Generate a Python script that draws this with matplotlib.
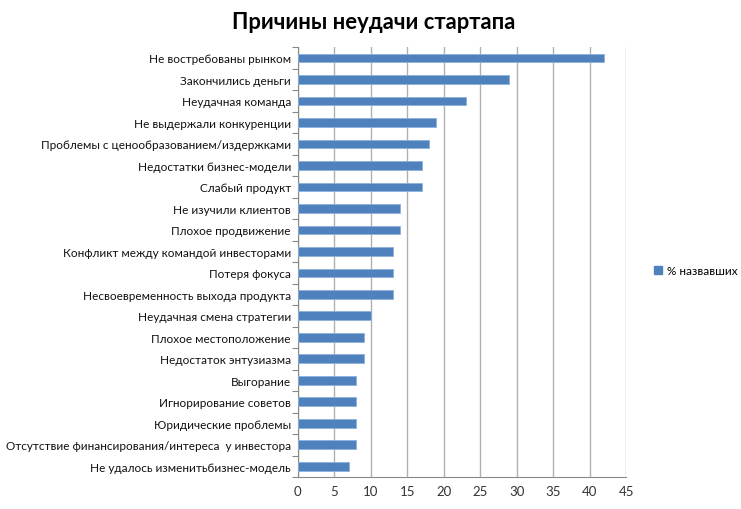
import matplotlib
matplotlib.use("Agg")
import matplotlib.pyplot as plt
from matplotlib.patches import Patch

categories = [
    "Не востребованы рынком",
    "Закончились деньги",
    "Неудачная команда",
    "Не выдержали конкуренции",
    "Проблемы с ценообразованием/издержками",
    "Недостатки бизнес-модели",
    "Слабый продукт",
    "Не изучили клиентов",
    "Плохое продвижение",
    "Конфликт между командой инвесторами",
    "Потеря фокуса",
    "Несвоевременность выхода продукта",
    "Неудачная смена стратегии",
    "Плохое местоположение",
    "Недостаток энтузиазма",
    "Выгорание",
    "Игнорирование советов",
    "Юридические проблемы",
    "Отсутствие финансирования/интереса  у инвестора",
    "Не удалось изменитьбизнес-модель",
]
values = [42, 29, 23, 19, 18, 17, 17, 14, 14, 13, 13, 13, 10, 9, 9, 8, 8, 8, 8, 7]
series_name = "% назвавших"
xticks = [0, 5, 10, 15, 20, 25, 30, 35, 40, 45]

plt.rcParams['font.family'] = ['Lato', 'DejaVu Sans']

fig = plt.figure(figsize=(7.41, 5.10), dpi=100)
ax = fig.add_axes([0.402, 0.0627, 0.443, 0.843])

n = len(categories)
ypos = list(range(n))[::-1]
bar_color = "#4F81BD"
ax.barh(ypos, values, height=0.4, color=bar_color, edgecolor="#8DB0DB", linewidth=0.6, zorder=3)

ax.set_xlim(0, 45)
ax.set_ylim(-0.5, n - 0.5)
ax.set_xticks(xticks)
ax.set_xticklabels([str(t) for t in xticks], fontsize=9.5, color="#333333")
ax.set_yticks(ypos)
ax.set_yticklabels(categories, fontsize=8.5, color="#111111")
ax.tick_params(axis='y', length=0, pad=5)
ax.tick_params(axis='x', length=0, pad=6)

# minor ticks at category boundaries on y axis
ax.set_yticks([i - 0.5 for i in range(n + 1)], minor=True)
ax.tick_params(axis='y', which='minor', length=4, color="#888888", width=0.8)

ax.grid(axis='x', color="#B0B0B0", linewidth=1.0, zorder=0)
ax.grid(axis='y', visible=False)
for s in ['top', 'right']:
    ax.spines[s].set_visible(False)
ax.spines['left'].set_color("#888888")
ax.spines['bottom'].set_color("#888888")

fig.text(0.504, 0.955, "Причины неудачи стартапа", ha='center', va='center',
         fontsize=15.8, fontweight='bold', color="#000000")

handle = Patch(facecolor=bar_color, edgecolor=bar_color)
fig.legend([handle], [series_name], loc='center left', bbox_to_anchor=(0.868, 0.467),
           frameon=False, fontsize=8.5, handlelength=0.7, handleheight=0.7, handletextpad=0.4)

fig.savefig("out.png", dpi=100)
